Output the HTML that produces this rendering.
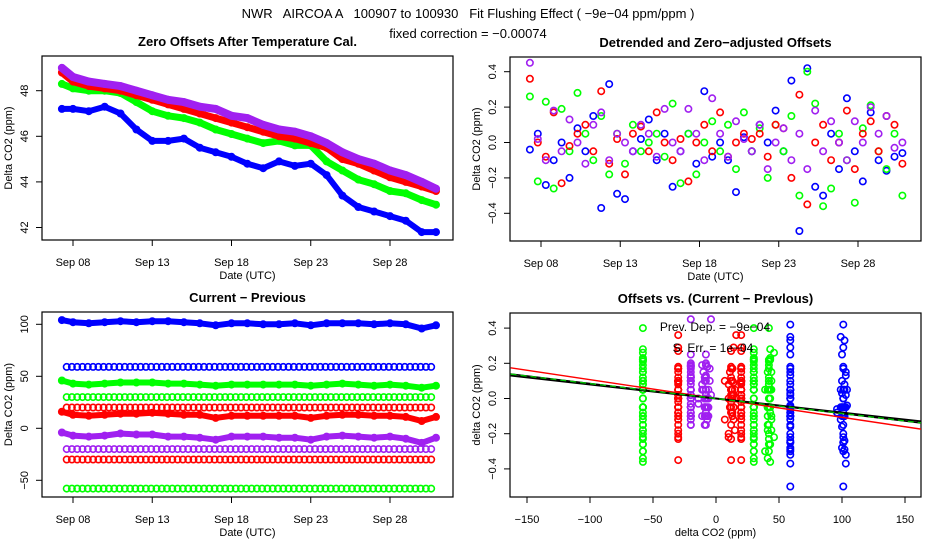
<!DOCTYPE html>
<html><head><meta charset="utf-8"><style>
html,body{margin:0;padding:0;background:#fff;}
svg{display:block;font-family:"Liberation Sans",sans-serif;}
</style></head><body>
<svg id="chart" width="936" height="540" viewBox="0 0 936 540" xmlns="http://www.w3.org/2000/svg">
<rect width="936" height="540" fill="#fff"/>
<text x="468" y="18" font-size="13" text-anchor="middle" xml:space="preserve">NWR   AIRCOA A   100907 to 100930   Fit Flushing Effect ( −9e−04 ppm/ppm )</text>
<text x="468" y="38" font-size="13" text-anchor="middle">fixed correction = −0.00074</text>
<g id="g"></g>
</svg>
<script>
// ---------- data ----------
const dayTicks = [8, 13, 18, 23, 28];
const dayTickLabels = ["Sep 08", "Sep 13", "Sep 18", "Sep 23", "Sep 28"];
const days1 = [7.3,8,9,10,11,12,13,14,15,16,17,18,19,20,21,22,23,24,25,26,27,28,29,30,30.9];
const zeroPurple = [49.0,48.6,48.4,48.3,48.2,48.0,47.8,47.6,47.5,47.3,47.2,46.9,46.8,46.5,46.3,46.2,46.0,45.7,45.3,45.0,44.8,44.5,44.3,44.0,43.7];
const zeroRed = [48.8,48.4,48.2,48.1,48.0,47.8,47.6,47.4,47.2,47.0,46.8,46.6,46.4,46.2,46.0,45.9,45.7,45.5,45.0,44.8,44.5,44.2,44.0,43.8,43.6];
const zeroGreen = [48.3,48.1,48.0,48.0,47.9,47.5,47.1,46.9,46.8,46.6,46.3,46.1,45.9,45.7,45.8,45.6,45.6,44.9,44.5,44.1,43.9,43.6,43.5,43.2,43.0];
const zeroBlue = [47.2,47.2,47.1,47.3,47.0,46.3,45.8,45.8,45.9,45.5,45.3,45.1,44.8,44.6,44.9,44.7,44.8,44.3,43.4,42.9,42.7,42.5,42.3,41.8,41.8];
const zeroTicks = [42,44,46,48];

const detStartDay = 7.3, detStep = 0.5;
const detBlue = [-0.04,0.05,-0.24,-0.1,0.0,-0.2,0.08,-0.05,0.15,-0.37,0.33,-0.29,-0.32,-0.05,0.02,0.13,-0.1,0.05,-0.25,-0.05,0.05,-0.12,0.29,-0.08,0.0,-0.1,-0.28,0.03,-0.05,0.1,0.0,0.18,-0.05,0.35,-0.5,0.42,-0.25,-0.3,0.05,-0.15,0.25,-0.05,-0.22,0.17,-0.1,-0.16,-0.08,-0.06];
const detRed = [0.36,0.0,-0.08,0.17,-0.23,-0.02,0.05,0.1,-0.05,0.29,-0.12,0.02,-0.18,0.05,0.09,-0.05,0.17,0.0,-0.1,0.02,-0.22,0.0,0.1,-0.05,0.17,-0.08,0.0,0.05,0.02,0.05,-0.08,0.1,0.08,-0.2,0.27,-0.35,0.0,0.1,-0.1,0.0,0.18,-0.15,0.05,0.12,-0.05,0.15,0.1,-0.12];
const detGreen = [0.26,-0.22,0.23,-0.26,0.19,-0.05,0.28,0.05,-0.1,0.15,-0.18,0.05,-0.12,0.1,-0.05,0.0,0.05,-0.08,0.22,-0.23,0.05,-0.18,0.0,0.12,-0.05,0.1,-0.15,0.17,-0.05,0.08,-0.2,0.1,-0.05,0.15,-0.3,0.4,0.22,-0.36,-0.26,0.05,-0.1,-0.34,0.08,0.21,-0.05,-0.15,0.05,-0.3];
const detPurple = [0.45,0.02,-0.1,0.18,-0.05,0.13,0.0,-0.12,0.1,0.17,-0.1,0.05,0.0,-0.05,0.1,0.05,-0.08,0.19,0.0,-0.05,0.19,0.05,-0.1,0.25,0.05,-0.08,0.12,0.02,-0.05,0.1,-0.15,0.0,0.08,-0.1,0.05,-0.15,0.18,-0.05,0.12,0.0,-0.1,0.12,0.0,0.2,0.05,0.15,-0.03,0.0];
const detTicks = [-0.4,-0.2,0.0,0.2,0.4];
const detTickLabels = ["−0.4","−0.2","0.0","0.2","0.4"];

const cpBlueVar = [104,102,101,102,103,102,103,103,102,101,99,101,101,100,100,101,99,101,101,101,100,101,100,96,99];
const cpGreenVar = [46,43,42,43,44,44,44,43,43,42,41,42,42,42,42,42,41,42,43,42,41,42,41,39,41];
const cpRedVar = [16,13,12,13,14,14,15,14,13,13,10,12,12,12,12,12,10,12,13,13,12,12,11,7,11];
const cpPurpleVar = [-4,-7,-8,-7,-5,-6,-6,-8,-8,-9,-11,-8,-8,-8,-9,-9,-11,-8,-7,-8,-9,-8,-10,-14,-9];
const cpConstLevels = [59,30,20,-20,-30,-58];
const cpConstColors = ["#0000ff","#00ff00","#ff0000","#a020f0","#ff0000","#00ff00"];
const cpTicks = [-50,0,50,100];
const cpTickLabels = ["−50","0","50","100"];

const offXTicks = [-150,-100,-50,0,50,100,150];
const offXTickLabels = ["−150","−100","−50","0","50","100","150"];
const fitSlopes = [-0.00107,-0.0008,-0.00086,-0.00085];

// ---------- helpers ----------
const NS="http://www.w3.org/2000/svg";
const G=document.getElementById('g');
function mk(tag,attrs,parent){const e=document.createElementNS(NS,tag);for(const k in attrs)e.setAttribute(k,attrs[k]);(parent||G).appendChild(e);return e;}
function txt(s,attrs,parent){const e=mk('text',attrs,parent);e.textContent=s;return e;}

const panels = {
 p1:{x0:42,x1:453,y0:56,y1:240},
 p2:{x0:510,x1:921,y0:57,y1:241},
 p3:{x0:42,x1:453,y0:312,y1:497},
 p4:{x0:510,x1:921,y0:313,y1:497}
};
const dx1=d=>73+(d-8)*15.85;
const dx2=d=>541+(d-8)*15.85;
const y1=v=>90.7+(48-v)*22.8;
const y2=v=>142.5-v*177;
const y3=v=>428.3-v*1.04;
const x4=v=>716+v*1.26;
const y4=v=>398.5-v*176;

function frame(p,name,title,xt,xtl,xs,yt,ytl,ys,xtitle,ytitle){
  const g=mk('g',{});
  
  
  const b=mk('rect',{x:p.x0,y:p.y0,width:p.x1-p.x0,height:p.y1-p.y0,fill:'none',stroke:'#000','stroke-width':1.2},g);
  
  
  const t=txt(title,{x:(p.x0+p.x1)/2,y:p.y0-10,'font-size':13,'font-weight':'bold','text-anchor':'middle'},g);
  
  
  const xa=mk('g',{},g);
  
  
  mk('line',{x1:xs(xt[0]),x2:xs(xt[xt.length-1]),y1:p.y1,y2:p.y1,stroke:'#000'},xa);
  xt.forEach((v,i)=>{const x=xs(v);mk('line',{x1:x,x2:x,y1:p.y1,y2:p.y1+6,stroke:'#000'},xa);
    const l=txt(xtl[i],{x:x,y:p.y1+26,'font-size':11,'text-anchor':'middle'},xa);
    
    });
  const ya=mk('g',{},g);
  
  
  mk('line',{x1:p.x0,x2:p.x0,y1:ys(yt[0]),y2:ys(yt[yt.length-1]),stroke:'#000'},ya);
  yt.forEach((v,i)=>{const y=ys(v);mk('line',{x1:p.x0,x2:p.x0-6,y1:y,y2:y,stroke:'#000'},ya);
    const l=txt(ytl[i],{x:0,y:0,'font-size':11,'text-anchor':'middle',transform:`translate(${p.x0-14},${y}) rotate(-90)`},ya);
    
    });
  const xtt=txt(xtitle,{x:(p.x0+p.x1)/2,y:p.y1+39,'font-size':11,'text-anchor':'middle'},g);
  
  
  const ytt=txt(ytitle,{x:0,y:0,'font-size':11,'text-anchor':'middle',transform:`translate(${p.x0-30},${(p.y0+p.y1)/2}) rotate(-90)`},g);
  
  
  return g;
}
function circ(x,y,color,parent,name){
  const c=mk('circle',{cx:x.toFixed(1),cy:y.toFixed(1),r:3.2,fill:'none',stroke:color,'stroke-width':1.6},parent);
  
  
}
function band(xs,vals,xf,yf,color,width,parent,name){
  const pts=vals.map((v,i)=>xf(xs[i]).toFixed(1)+','+yf(v).toFixed(1)).join(' ');
  const pl=mk('polyline',{points:pts,fill:'none',stroke:color,'stroke-width':width,'stroke-linejoin':'round','stroke-linecap':'round'},parent);
  
  
  vals.forEach((v,i)=>circ(xf(xs[i]),yf(v),color,parent,name+'-point'));
}

// ---------- panel 1 ----------
const f1=frame(panels.p1,'zero-offsets-panel','Zero Offsets After Temperature Cal.',dayTicks,dayTickLabels,dx1,zeroTicks,zeroTicks.map(String),y1,'Date (UTC)','Delta CO2 (ppm)');
band(days1,zeroBlue,dx1,y1,'#0000ff',6,f1,'blue-series');
band(days1,zeroGreen,dx1,y1,'#00ff00',7,f1,'green-series');
band(days1,zeroRed,dx1,y1,'#ff0000',7,f1,'red-series');
band(days1,zeroPurple,dx1,y1,'#a020f0',8,f1,'purple-series');

// ---------- panel 2 ----------
const f2=frame(panels.p2,'detrended-panel','Detrended and Zero−adjusted Offsets',dayTicks,dayTickLabels,dx2,detTicks,detTickLabels,y2,'Date (UTC)','Delta CO2 (ppm)');
[[detBlue,'#0000ff','blue'],[detGreen,'#00ff00','green'],[detRed,'#ff0000','red'],[detPurple,'#a020f0','purple']].forEach(([arr,col,nm])=>{
  arr.forEach((v,i)=>circ(dx2(detStartDay+i*detStep),y2(v),col,f2,nm+'-detrended-point'));
});

// ---------- panel 3 ----------
const f3=frame(panels.p3,'current-previous-panel','Current − Previous',dayTicks,dayTickLabels,dx1,cpTicks,cpTickLabels,y3,'Date (UTC)','Delta CO2 (ppm)');
cpConstLevels.forEach((lv,k)=>{
  for(let d=7.6; d<=30.9; d+=1/3){ circ(dx1(d),y3(lv),cpConstColors[k],f3,'constant-level-point'); }
});
band(days1,cpBlueVar,dx1,y3,'#0000ff',6,f3,'blue-varying');
band(days1,cpGreenVar,dx1,y3,'#00ff00',6,f3,'green-varying');
band(days1,cpRedVar,dx1,y3,'#ff0000',6,f3,'red-varying');
band(days1,cpPurpleVar,dx1,y3,'#a020f0',6,f3,'purple-varying');

// ---------- panel 4 ----------
const f4=frame(panels.p4,'offsets-vs-current-panel','Offsets vs. (Current − Prevlous)',offXTicks,offXTickLabels,x4,detTicks,detTickLabels,y4,'delta CO2 (ppm)','delta CO2 (ppm)');
function varAt(arr,i){const d=detStartDay+i*detStep;let k=0;while(k<days1.length-1&&days1[k+1]<=d)k++;return arr[k];}
const clusterDefs=[
 {arr:detGreen,col:'#00ff00',consts:[-58,30],vary:cpGreenVar},
 {arr:detRed,col:'#ff0000',consts:[-30,20],vary:cpRedVar},
 {arr:detPurple,col:'#a020f0',consts:[-20],vary:cpPurpleVar},
 {arr:detBlue,col:'#0000ff',consts:[59],vary:cpBlueVar}
];
clusterDefs.forEach(c=>{
  c.consts.forEach(cx=>c.arr.forEach(v=>circ(x4(cx),y4(v),c.col,f4,'offset-cluster-point')));
  c.arr.forEach((v,i)=>circ(x4(varAt(c.vary,i)),y4(v),c.col,f4,'offset-cluster-point'));
});
const fitStyles=[['#ff0000',1.4,''],['#000',2,''],['#000',1.2,''],['#00c000',1.4,'6,4']];
const clip=mk('clipPath',{id:'c4'});
mk('rect',{x:510,y:313,width:411,height:184},clip);
fitSlopes.forEach((s,k)=>{
  const l=mk('line',{x1:x4(-163),y1:y4(-163*s),x2:x4(163),y2:y4(163*s),stroke:fitStyles[k][0],'stroke-width':fitStyles[k][1],'stroke-dasharray':fitStyles[k][2],'clip-path':'url(#c4)'},f4);
  
  
});
const t1=txt('Prev. Dep. =  −9e−04',{x:715,y:331,'font-size':12,'text-anchor':'middle'},f4);


const t2=txt('S. Err. =  1e−04',{x:713,y:352,'font-size':12,'text-anchor':'middle'},f4);


</script>
</body></html>
